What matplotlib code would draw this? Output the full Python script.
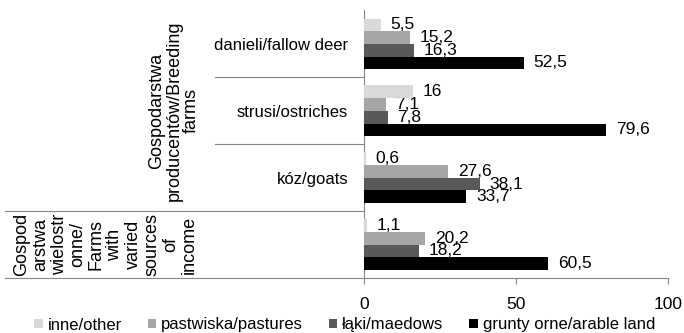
import matplotlib.pyplot as plt
from matplotlib.patches import Patch
from matplotlib.lines import Line2D

plt.rcParams['font.family'] = ['Liberation Sans', 'DejaVu Sans']

# grupy gospodarstw (od gory)
categories = ['danieli/fallow deer', 'strusi/ostriches', 'kóz/goats', '']
series_names = ['inne/other', 'pastwiska/pastures', 'łąki/maedows', 'grunty orne/arable land']
inne = [5.5, 16, 0.6, 1.1]
pastwiska = [15.2, 7.1, 27.6, 20.2]
laki = [16.3, 7.8, 38.1, 18.2]
grunty = [52.5, 79.6, 33.7, 60.5]
x_ticks = [0, 50, 100]

label_breeding = 'Gospodarstwa\nproducentów/Breeding\nfarms'
label_varied = 'Gospod\narstwa\nwielostr\nonne/\nFarms\nwith\nvaried\nsources\nof\nincome'

colors = ['#d9d9d9', '#a6a6a6', '#595959', '#000000']
grey = '#868686'

fig = plt.figure(figsize=(6.84, 3.33), dpi=100)
ax = fig.add_axes([364 / 684, 55 / 333, 304 / 684, 267.5 / 333])

h = 0.19
pos = range(len(categories))
for j, vals in enumerate([inne, pastwiska, laki, grunty]):
    y = [p + (j - 1.5) * h for p in pos]
    bars = ax.barh(y, vals, height=h, color=colors[j], zorder=3)
    txt = [f'{v:g}'.replace('.', ',') for v in vals]
    for t in ax.bar_label(bars, labels=txt, padding=7, fontsize=12.5):
        t.set_zorder(2)

ax.set_xlim(0, 100)
ax.set_ylim(3.5, -0.5)
ax.set_xticks(x_ticks)
ax.set_yticks(list(pos))
ax.set_yticklabels(categories)
ax.tick_params(axis='y', length=0, pad=11.5, labelsize=12)
ax.tick_params(axis='x', length=4.5, width=0.8, color=grey, pad=9, labelsize=12.5)

for s in ['top', 'right']:
    ax.spines[s].set_visible(False)
for s in ['left', 'bottom']:
    ax.spines[s].set_color(grey)
    ax.spines[s].set_linewidth(0.8)

# linie oddzielajace grupy po lewej stronie osi
tr = ax.get_yaxis_transform()
for yy, x0 in [(0.5, -0.49), (1.5, -0.49), (2.5, -1.18), (3.5, -1.18)]:
    ax.add_line(Line2D([x0, 0], [yy, yy], transform=tr, color=grey,
                       lw=0.8, clip_on=False))

ax.text(-0.625, 1, label_breeding, transform=tr, rotation=90, ha='center',
        va='center', multialignment='center', fontsize=13, linespacing=1.05)
ax.text(-0.85, 3, label_varied, transform=tr, rotation=90, ha='center',
        va='center', multialignment='center', fontsize=13, linespacing=1.12)

handles = [Patch(facecolor=c) for c in colors]
fig.legend(handles, series_names, loc='center', bbox_to_anchor=(0.504, 1 - 325 / 333),
           ncol=4, frameon=False, fontsize=12, handlelength=0.5, handleheight=0.5,
           handletextpad=0.3, columnspacing=1.55, borderaxespad=0, borderpad=0)

fig.savefig('out.png', dpi=100)
